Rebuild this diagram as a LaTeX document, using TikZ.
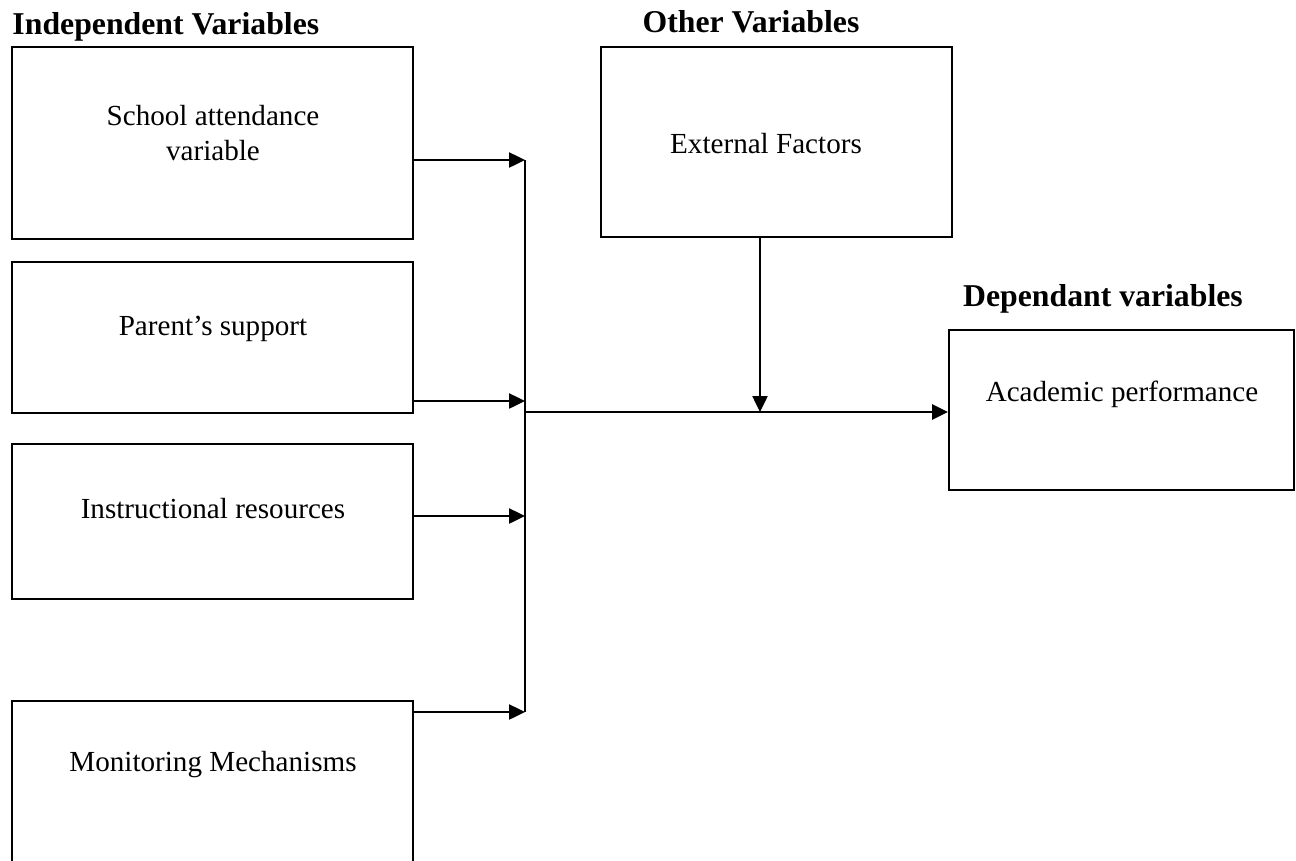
\documentclass[tikz,border=0pt]{standalone}
\usepackage{fontspec}
\setmainfont{Liberation Serif}
\usetikzlibrary{arrows.meta,fit}
\begin{document}
\begin{tikzpicture}[x=0.4pt,y=-0.4pt,
    box/.style={draw,line width=0.75pt,inner sep=0pt},
    txt/.style={align=center,font=\fontsize{11.65}{14}\selectfont,inner sep=0pt},
    head/.style={font=\fontsize{12.7}{15}\selectfont\bfseries,inner sep=0pt},
    arr/.style={line width=1pt,-{Triangle[length=6.4pt,width=6pt]}}]
        \useasboundingbox (0,0) rectangle (1296,861);
        \node[head,anchor=west] (indep) at (12,27) {Independent Variables};
        \node[head] (other) at (751,22) {Other Variables};
        \node[head] (dep) at (1103,299) {Dependant variables};
        \node[box,fit={(12,47) (413,239)}] (school) {};
        \node[box,fit={(12,262) (413,413)}] (parent) {};
        \node[box,fit={(12,444) (413,599)}] (instr) {};
        \node[box,fit={(12,701) (413,870)}] (monitor) {};
        \node[box,fit={(601,47) (952,237)}] (ext) {};
        \node[box,fit={(949,330) (1294,490)}] (acad) {};
        \node[txt] (school-t) at (213,133) {School attendance\\variable};
        \node[txt] (parent-t) at (213,329) {Parent’s support};
        \node[txt] (instr-t) at (213,509) {Instructional resources};
        \node[txt] (monitor-t) at (213,765) {Monitoring Mechanisms};
        \node[txt] (ext-t) at (766,144) {External Factors};
        \node[txt] (acad-t) at (1122,394) {Academic performance};
        \coordinate (j1) at (525,160);
        \coordinate (j2) at (525,401);
        \coordinate (j3) at (525,516);
        \coordinate (j4) at (525,712);
        \coordinate (jm) at (525,412);
        \coordinate (je) at (760,412);
        \draw[arr] (school.east |- j1) -- (j1);
        \draw[arr] (parent.east |- j2) -- (j2);
        \draw[arr] (instr.east |- j3) -- (j3);
        \draw[arr] (monitor.east |- j4) -- (j4);
        \draw[line width=0.75pt] (j1) -- (j4);
        \draw[arr] (jm) -- (acad.west |- jm);
        \draw[arr] (ext.south -| je) -- (je);
\end{tikzpicture}
\end{document}
